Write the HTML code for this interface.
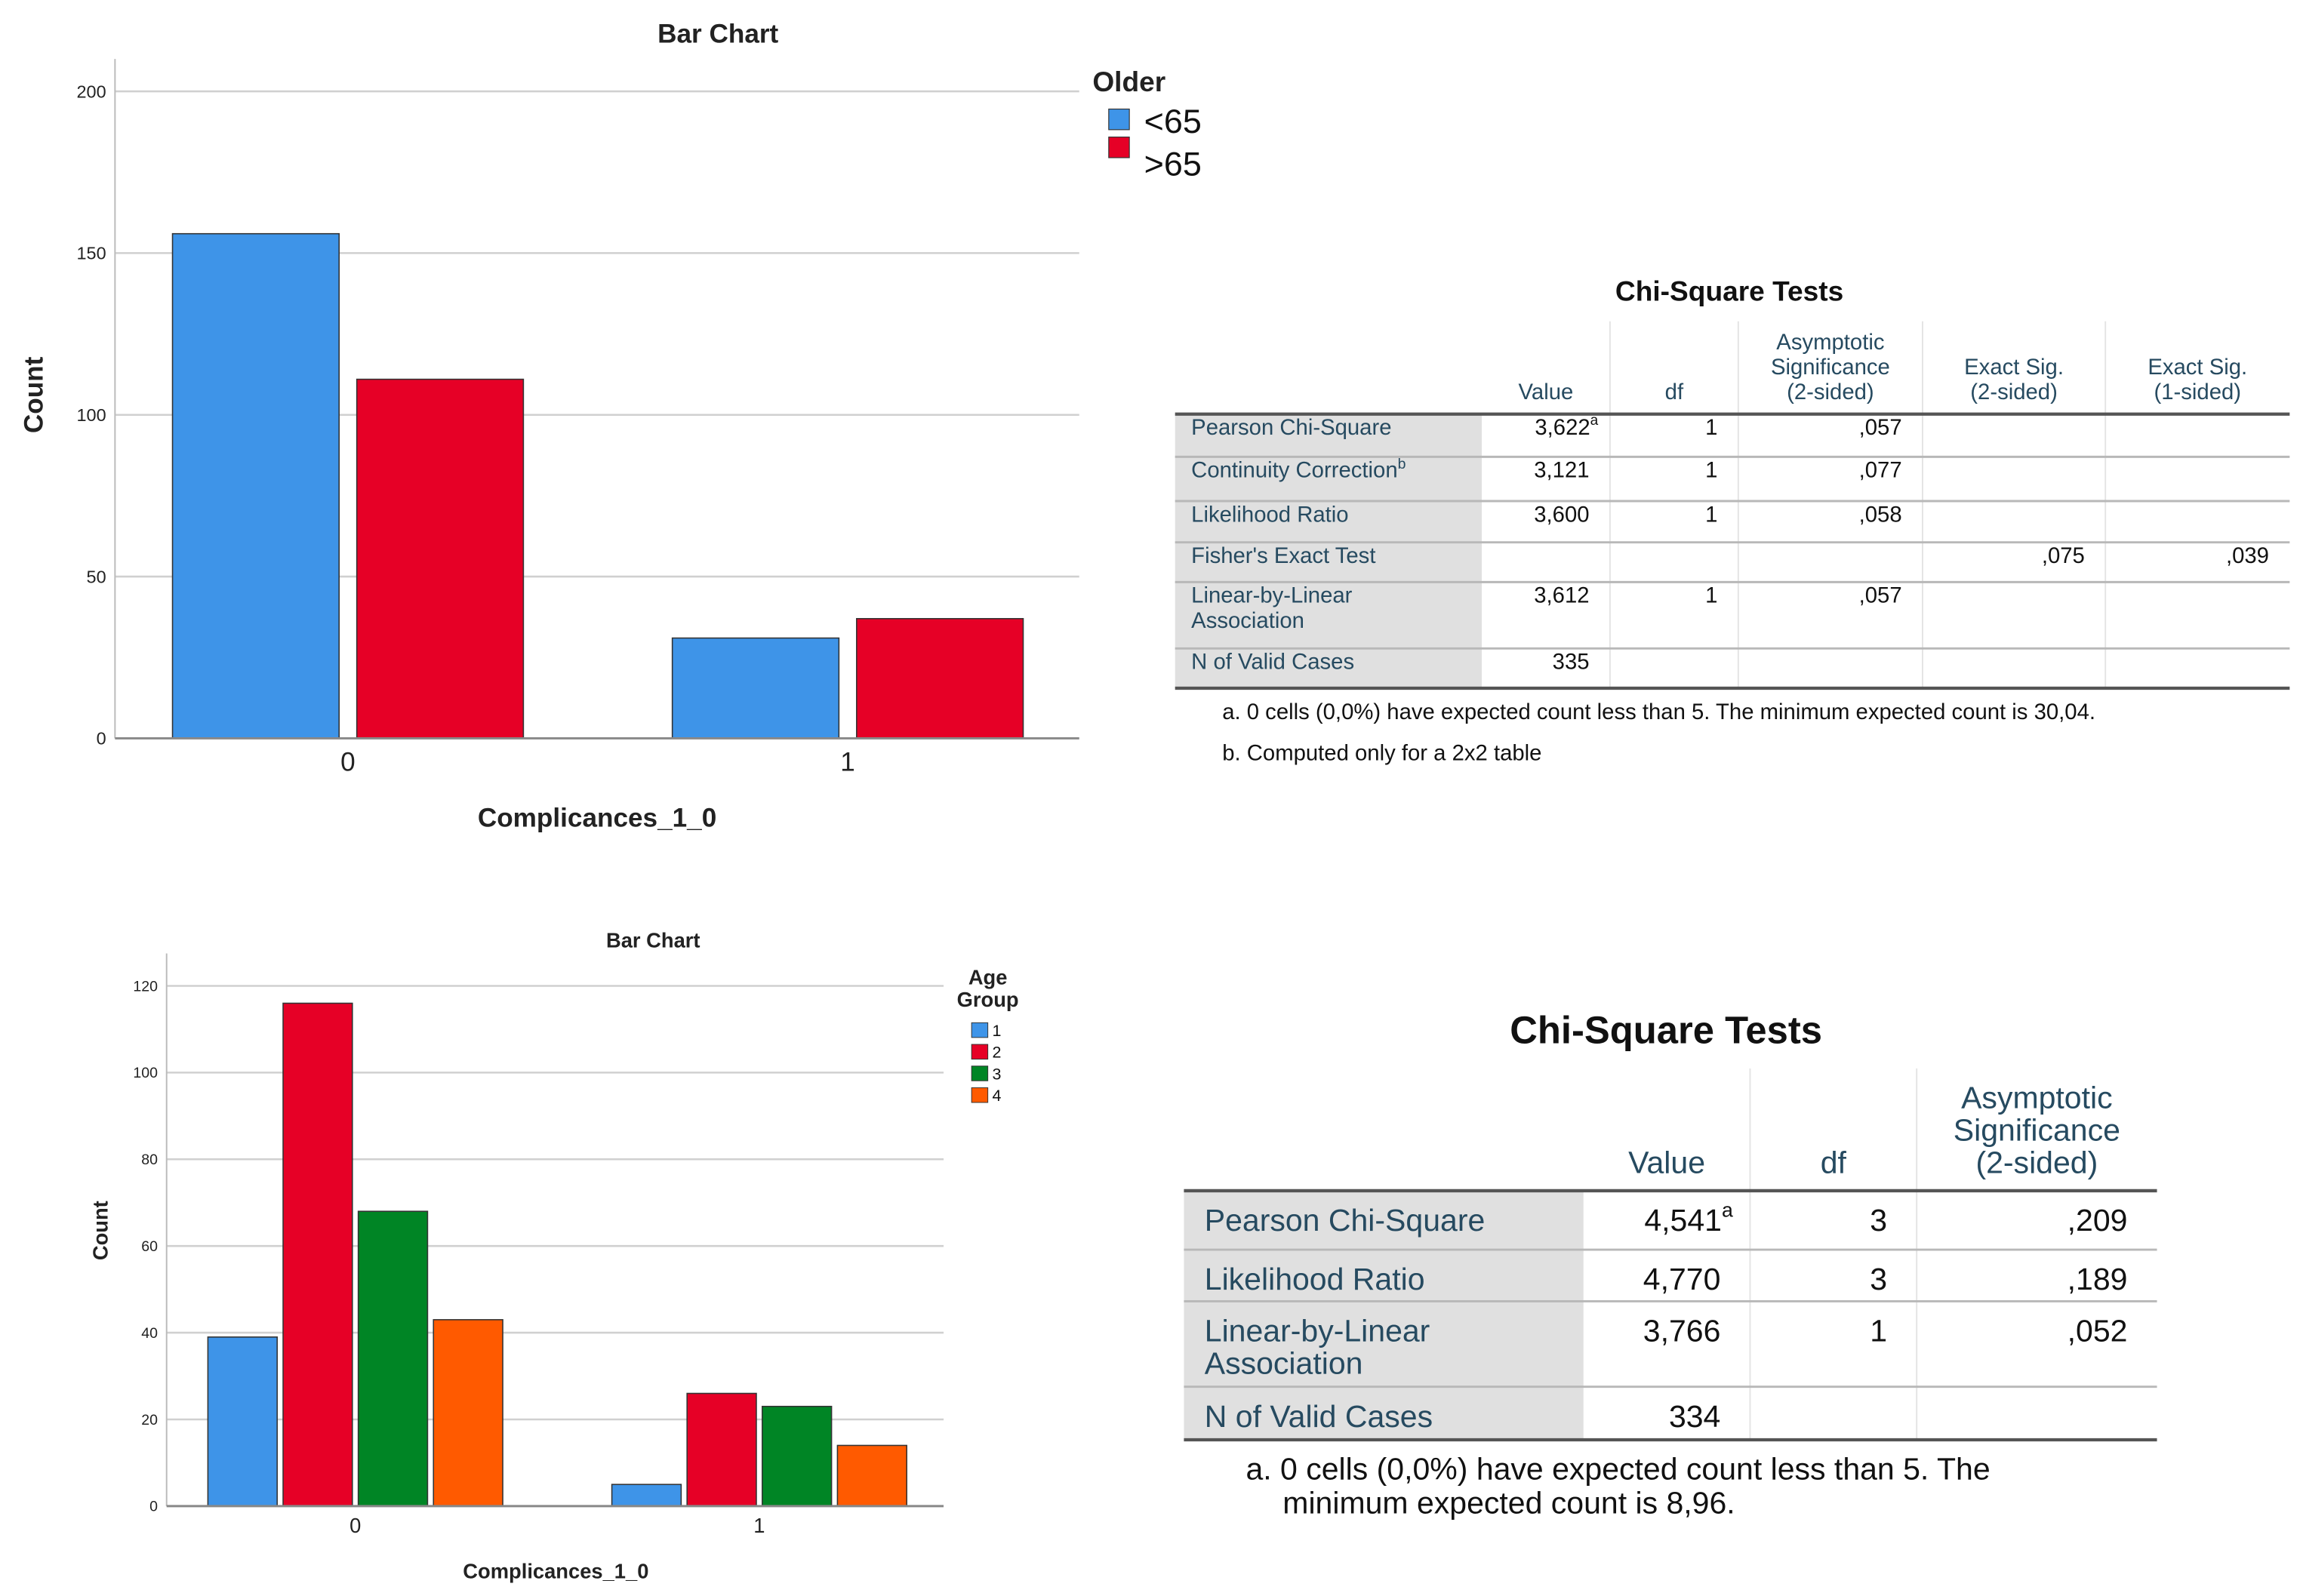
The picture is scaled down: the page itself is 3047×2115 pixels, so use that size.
<!DOCTYPE html>
<html><head><meta charset="utf-8">
<style>
html,body{margin:0;padding:0;background:#fff;}
svg{display:block;}
text{font-family:"Liberation Sans Narrow","Liberation Sans",sans-serif;}
.tl{fill:#264a60;}
</style></head>
<body>
<svg id="s" width="3047" height="2115" viewBox="0 0 1560 1083" preserveAspectRatio="none" xmlns="http://www.w3.org/2000/svg">
<rect width="1560" height="1083" fill="#fff"/>
<g id="c1"></g>
<g id="c2"></g>
<g id="t1"></g>
<g id="t2"></g>
</svg>
<script>
// Chart 1 data
const c1Categories = ["0","1"];
const c1Series = ["<65",">65"];
const c1Values = [[156,31],[111,37]];
const c1Ticks = [0,50,100,150,200];
// Chart 2 data
const c2Categories = ["0","1"];
const c2Series = ["1","2","3","4"];
const c2Values = [[39,5],[116,26],[68,23],[43,14]];
const c2Ticks = [0,20,40,60,80,100,120];

const NS="http://www.w3.org/2000/svg";
function mk(parent,tag,attrs,txt){const e=document.createElementNS(NS,tag);for(const k in attrs)e.setAttribute(k,attrs[k]);if(txt!==undefined)e.textContent=txt;parent.appendChild(e);return e;}

function chart(g,o){
  const y=v=>o.y0-(v/o.ymax)*(o.y0-o.ytop);
  o.ticks.forEach(t=>{
    if(t>0){const gl=mk(g,'line',{x1:o.x0,x2:o.x1,y1:y(t),y2:y(t),stroke:'#d0d0d0','stroke-width':1.3});
    
    }
    const tk=mk(g,'text',{x:o.x0-6,y:y(t)+o.tfs*0.35,'text-anchor':'end','font-size':o.tfs,fill:'#222'},String(t));
    
    
  });
  const colors=o.colors;
  const n=o.series.length;
  o.cats.forEach((c,ci)=>{
    const gx=o.gStart+ci*o.gStep;
    for(let si=0;si<n;si++){
      const v=o.vals[si][ci];
      const bx=gx+si*(o.bw+o.gap);
      const r=mk(g,'rect',{x:bx,y:y(v),width:o.bw,height:o.y0-y(v),fill:colors[si],stroke:'#333','stroke-width':0.8});
      
      
    }
    const cx=gx+(n*o.bw+(n-1)*o.gap)/2;
    const cl=mk(g,'text',{x:cx,y:o.y0+o.cfs+4,'text-anchor':'middle','font-size':o.cfs,fill:'#222'},c);
    
    
  });
  const ax=mk(g,'line',{x1:o.x0,x2:o.x0,y1:o.ytop-22,y2:o.y0,stroke:'#bbb','stroke-width':1});
  
  
  const bx=mk(g,'line',{x1:o.x0,x2:o.x1,y1:o.y0,y2:o.y0,stroke:'#888','stroke-width':1.5});
  
  
}

const col2=['#3e94e8','#e60026'];
const col4=['#3e94e8','#e60026','#008525','#ff5a00'];
const c1=document.getElementById('c1');
chart(c1,{x0:78,x1:732,y0:501,ytop:62,ymax:200,ticks:c1Ticks,cats:c1Categories,series:c1Series,vals:c1Values,colors:col2,gStart:117,gStep:339,bw:113,gap:12,tfs:12,cfs:18});
mk(c1,'text',{x:487,y:29,'text-anchor':'middle','font-size':18,'font-weight':'bold',fill:'#222',},'Bar Chart');
mk(c1,'text',{x:405,y:561,'text-anchor':'middle','font-size':18,'font-weight':'bold',fill:'#222',},'Complicances_1_0');
mk(c1,'text',{x:29,y:268,'text-anchor':'middle','font-size':18,'font-weight':'bold',fill:'#222',transform:'rotate(-90 29 268)',},'Count');
mk(c1,'text',{x:741,y:62,'font-size':19,'font-weight':'bold',fill:'#222',},'Older');
c1Series.forEach((s,i)=>{
  const r=mk(c1,'rect',{x:752,y:74+i*19,width:14,height:14,fill:col2[i],stroke:'#333','stroke-width':0.6});
  
  
  const t=mk(c1,'text',{x:776,y:90+i*29,'font-size':23,fill:'#111'},s);
  
  
});

const c2=document.getElementById('c2');
chart(c2,{x0:113,x1:640,y0:1022,ytop:669,ymax:120,ticks:c2Ticks,cats:c2Categories,series:c2Series,vals:c2Values,colors:col4,gStart:141,gStep:274,bw:47,gap:4,tfs:10,cfs:14});
mk(c2,'text',{x:443,y:643,'text-anchor':'middle','font-size':14,'font-weight':'bold',fill:'#222',},'Bar Chart');
mk(c2,'text',{x:377,y:1071,'text-anchor':'middle','font-size':14,'font-weight':'bold',fill:'#222',},'Complicances_1_0');
mk(c2,'text',{x:73,y:835,'text-anchor':'middle','font-size':14,'font-weight':'bold',fill:'#222',transform:'rotate(-90 73 835)',},'Count');
mk(c2,'text',{x:670,y:668,'text-anchor':'middle','font-size':14,'font-weight':'bold',fill:'#222',},'Age');
mk(c2,'text',{x:670,y:683,'text-anchor':'middle','font-size':14,'font-weight':'bold',fill:'#222',},'Group');
c2Series.forEach((s,i)=>{
  const r=mk(c2,'rect',{x:659,y:694+i*14.7,width:11,height:10,fill:col4[i],stroke:'#333','stroke-width':0.5});
  
  
  const t=mk(c2,'text',{x:673,y:703+i*14.7,'font-size':11,fill:'#111'},s);
  
  
});

// Tables
function table(g,o){
  mk(g,'text',{x:o.tx,y:o.ty,'text-anchor':'middle','font-size':o.tfs,'font-weight':'bold',fill:'#111',},'Chi-Square Tests');
  const top=o.rows[0][0], bot=o.rows[o.rows.length-1][1];
  mk(g,'rect',{x:o.cols[0],y:top,width:o.cols[1]-o.cols[0],height:bot-top,fill:'#e0e0e0'});
  for(let i=2;i<o.cols.length-1;i++){
    mk(g,'line',{x1:o.cols[i],x2:o.cols[i],y1:o.hTop,y2:bot,stroke:'#e4e4e4','stroke-width':1});
  }
  o.rows.forEach((r,ri)=>{
    if(ri>0) mk(g,'line',{x1:o.cols[0],x2:o.cols[o.cols.length-1],y1:r[0],y2:r[0],stroke:'#b8b8b8','stroke-width':1.5});
  });
  mk(g,'line',{x1:o.cols[0],x2:o.cols[o.cols.length-1],y1:top,y2:top,stroke:'#555','stroke-width':2.2});
  mk(g,'line',{x1:o.cols[0],x2:o.cols[o.cols.length-1],y1:bot,y2:bot,stroke:'#555','stroke-width':2.2});
  o.header.forEach((h,ci)=>{
    const lines=h; const cx=(o.cols[ci+1]+o.cols[ci+2])/2;
    lines.forEach((ln,li)=>{
      mk(g,'text',{x:cx,y:o.hBot-(lines.length-1-li)*o.lh,'text-anchor':'middle','font-size':o.fs,class:'tl',},ln);
    });
  });
  o.data.forEach((row,ri)=>{
    const ry=o.rows[ri][0]+o.fs*1.2+o.padT;
    row[0].forEach((ln,li)=>mk(g,'text',{x:o.cols[0]+o.padL,y:ry+li*o.lh,'font-size':o.fs,class:'tl',},ln));
    for(let c=1;c<row.length;c++){
      if(!row[c])continue;
      const t=mk(g,'text',{x:o.cols[c+1]-o.padR,y:ry,'text-anchor':'end','font-size':o.fs,fill:'#111',});
      const v=row[c].split('^');
      t.textContent=v[0];
      if(v[1]){const sp=mk(t,'tspan',{'font-size':o.fs*0.65,dy:-o.fs*0.45},v[1]);}
      if(v[1]) t.setAttribute('x',o.cols[c+1]-o.padR+o.fs*0.4);
    }
  });
  o.notes.forEach(n=>mk(g,'text',{x:n[0],y:n[1],'font-size':o.fs,fill:'#111',},n[2]));
}
table(document.getElementById('t1'),{tx:1173,ty:204,tfs:19,fs:15,lh:17,padL:11,padR:14,padT:-4,
  cols:[797,1005,1092,1179,1304,1428,1553],hTop:218,hBot:271,
  header:[["Value"],["df"],["Asymptotic","Significance","(2-sided)"],["Exact Sig.","(2-sided)"],["Exact Sig.","(1-sided)"]],
  rows:[[281,310],[310,340],[340,368],[368,395],[395,440],[440,467]],
  data:[[["Pearson Chi-Square"],"3,622^a","1",",057","",""],[["Continuity Correction^b"],"3,121","1",",077","",""],[["Likelihood Ratio"],"3,600","1",",058","",""],[["Fisher's Exact Test"],"","","",",075",",039"],[["Linear-by-Linear","Association"],"3,612","1",",057","",""],[["N of Valid Cases"],"335","","","",""]],
  notes:[[829,488,"a. 0 cells (0,0%) have expected count less than 5. The minimum expected count is 30,04."],[829,516,"b. Computed only for a 2x2 table"]]});
table(document.getElementById('t2'),{tx:1130,ty:708,tfs:26,fs:21,lh:22,padL:14,padR:20,padT:2,
  cols:[803,1074,1187,1300,1463],hTop:725,hBot:796,
  header:[["Value"],["df"],["Asymptotic","Significance","(2-sided)"]],
  rows:[[808,848],[848,883],[883,941],[941,977]],
  data:[[["Pearson Chi-Square"],"4,541^a","3",",209"],[["Likelihood Ratio"],"4,770","3",",189"],[["Linear-by-Linear","Association"],"3,766","1",",052"],[["N of Valid Cases"],"334","",""]],
  notes:[[845,1004,"a. 0 cells (0,0%) have expected count less than 5. The"],[870,1027,"minimum expected count is 8,96."]]});
// fix: continuity correction superscript on label
document.querySelectorAll('#t1 text').forEach(t=>{if(t.textContent==="Continuity Correction^b"){t.textContent="Continuity Correction";mk(t,'tspan',{'font-size':10,dy:-6},'b');}});
</script>
</body></html>
